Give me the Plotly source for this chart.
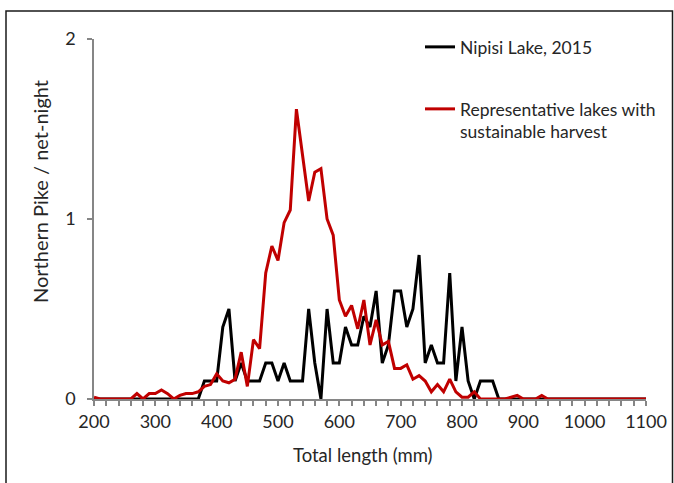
import plotly.graph_objects as go

# Total length bins (mm)
length_mm = [200, 210, 220, 230, 240, 250, 260, 270, 280, 290,
             300, 310, 320, 330, 340, 350, 360, 370, 380, 390,
             400, 410, 420, 430, 440, 450, 460, 470, 480, 490,
             500, 510, 520, 530, 540, 550, 560, 570, 580, 590,
             600, 610, 620, 630, 640, 650, 660, 670, 680, 690,
             700, 710, 720, 730, 740, 750, 760, 770, 780, 790,
             800, 810, 820, 830, 840, 850, 860, 870, 880, 890,
             900, 910, 920, 930, 940, 950, 960, 970, 980, 990,
             1000, 1010, 1020, 1030, 1040, 1050, 1060, 1070, 1080, 1090,
             1100]

# Nipisi Lake, 2015 (fish / net-night)
nipisi = [0, 0, 0, 0, 0, 0, 0, 0, 0, 0,
          0, 0, 0, 0, 0, 0, 0, 0, 0.1, 0.1,
          0.1, 0.4, 0.5, 0.1, 0.2, 0.1, 0.1, 0.1, 0.2, 0.2,
          0.1, 0.2, 0.1, 0.1, 0.1, 0.5, 0.2, 0.0, 0.5, 0.2,
          0.2, 0.4, 0.3, 0.3, 0.46, 0.4, 0.6, 0.2, 0.3, 0.6,
          0.6, 0.4, 0.5, 0.8, 0.2, 0.3, 0.2, 0.2, 0.7, 0.1,
          0.4, 0.1, 0.0, 0.1, 0.1, 0.1, 0, 0, 0, 0,
          0, 0, 0, 0, 0, 0, 0, 0, 0, 0,
          0, 0, 0, 0, 0, 0, 0, 0, 0, 0,
          0]

# Representative lakes with sustainable harvest
representative = [0.01, 0, 0, 0, 0, 0, 0, 0.03, 0, 0.03,
                  0.03, 0.05, 0.03, 0, 0.02, 0.03, 0.03, 0.04, 0.07, 0.08,
                  0.14, 0.10, 0.09, 0.11, 0.26, 0.07, 0.33, 0.28, 0.70, 0.85,
                  0.77, 0.98, 1.05, 1.61, 1.35, 1.10, 1.26, 1.28, 1.00, 0.91,
                  0.55, 0.46, 0.52, 0.39, 0.55, 0.30, 0.44, 0.30, 0.32, 0.17,
                  0.17, 0.19, 0.11, 0.13, 0.10, 0.04, 0.08, 0.04, 0.11, 0.04,
                  0.01, 0.01, 0.04, 0, 0, 0, 0, 0, 0.01, 0.02,
                  0, 0, 0, 0.02, 0, 0, 0, 0, 0, 0,
                  0, 0, 0, 0, 0, 0, 0, 0, 0, 0,
                  0]

x_ticks = [200, 300, 400, 500, 600, 700, 800, 900, 1000, 1100]
y_ticks = [0, 1, 2]

FONT = "Lato"
TXT = "#262626"
AX = "#868686"

W, H = 674, 483
ML, MR, MT, MB = 94, 28, 39, 84
PW = W - ML - MR
PH = H - MT - MB


def px_x(p):
    return (p - ML) / PW


def px_y(p):
    return (H - MB - p) / PH


fig = go.Figure()
fig.add_trace(go.Scatter(
    x=length_mm, y=nipisi, mode="lines", name="Nipisi Lake, 2015",
    line=dict(color="#000000", width=3), legend="legend", showlegend=True))
fig.add_trace(go.Scatter(
    x=length_mm, y=representative, mode="lines",
    name="Representative lakes with<br>sustainable harvest",
    line=dict(color="#C00000", width=3), legend="legend2", showlegend=True))

leg_common = dict(xanchor="left", yanchor="top", bgcolor="rgba(0,0,0,0)",
                  font=dict(family=FONT, size=17.5, color=TXT),
                  itemwidth=30, valign="top", visible=True)

fig.update_layout(
    width=W, height=H,
    showlegend=True,
    margin=dict(l=ML, r=MR, t=MT, b=MB, autoexpand=False),
    paper_bgcolor="white", plot_bgcolor="white",
    font=dict(family=FONT, color=TXT),
    legend=dict(x=px_x(420), y=px_y(29), **leg_common),
    legend2=dict(x=px_x(420), y=px_y(91), **leg_common),
    xaxis=dict(range=[200, 1100], tickvals=x_ticks,
               ticks="outside", ticklen=5, tickcolor=AX, tickwidth=1.5,
               showline=True, linecolor=AX, linewidth=1.5,
               showgrid=False, zeroline=False,
               minor=dict(dtick=20, tick0=200, ticks="outside", ticklen=5,
                          tickcolor=AX, tickwidth=1.5, showgrid=False),
               tickfont=dict(family=FONT, size=18, color=TXT),
               ticklabelstandoff=1),
    yaxis=dict(range=[0, 2], tickvals=y_ticks,
               ticks="outside", ticklen=5, tickcolor=AX, tickwidth=1.5,
               showline=True, linecolor=AX, linewidth=1.5,
               showgrid=False, zeroline=False,
               tickfont=dict(family=FONT, size=18, color=TXT),
               ticklabelstandoff=8),
    annotations=[
        dict(text="Total length (mm)", xref="paper", yref="paper",
             x=px_x(363), y=px_y(455), showarrow=False,
             xanchor="center", yanchor="middle",
             font=dict(family=FONT, size=18.5, color=TXT)),
        dict(text="Northern Pike / net-night", xref="paper", yref="paper",
             x=px_x(40), y=px_y(192), showarrow=False, textangle=-90,
             xanchor="center", yanchor="middle",
             font=dict(family=FONT, size=20, color=TXT)),
    ],
    shapes=[
        dict(type="rect", xref="paper", yref="paper",
             x0=px_x(6), x1=px_x(672.5), y0=px_y(495), y1=px_y(11),
             line=dict(color="#1a1a1a", width=1.5), fillcolor="rgba(0,0,0,0)",
             layer="below"),
    ],
)

fig.write_html("out.html",
               config={"displayModeBar": False},
               post_script="document.body.style.margin='0';")
